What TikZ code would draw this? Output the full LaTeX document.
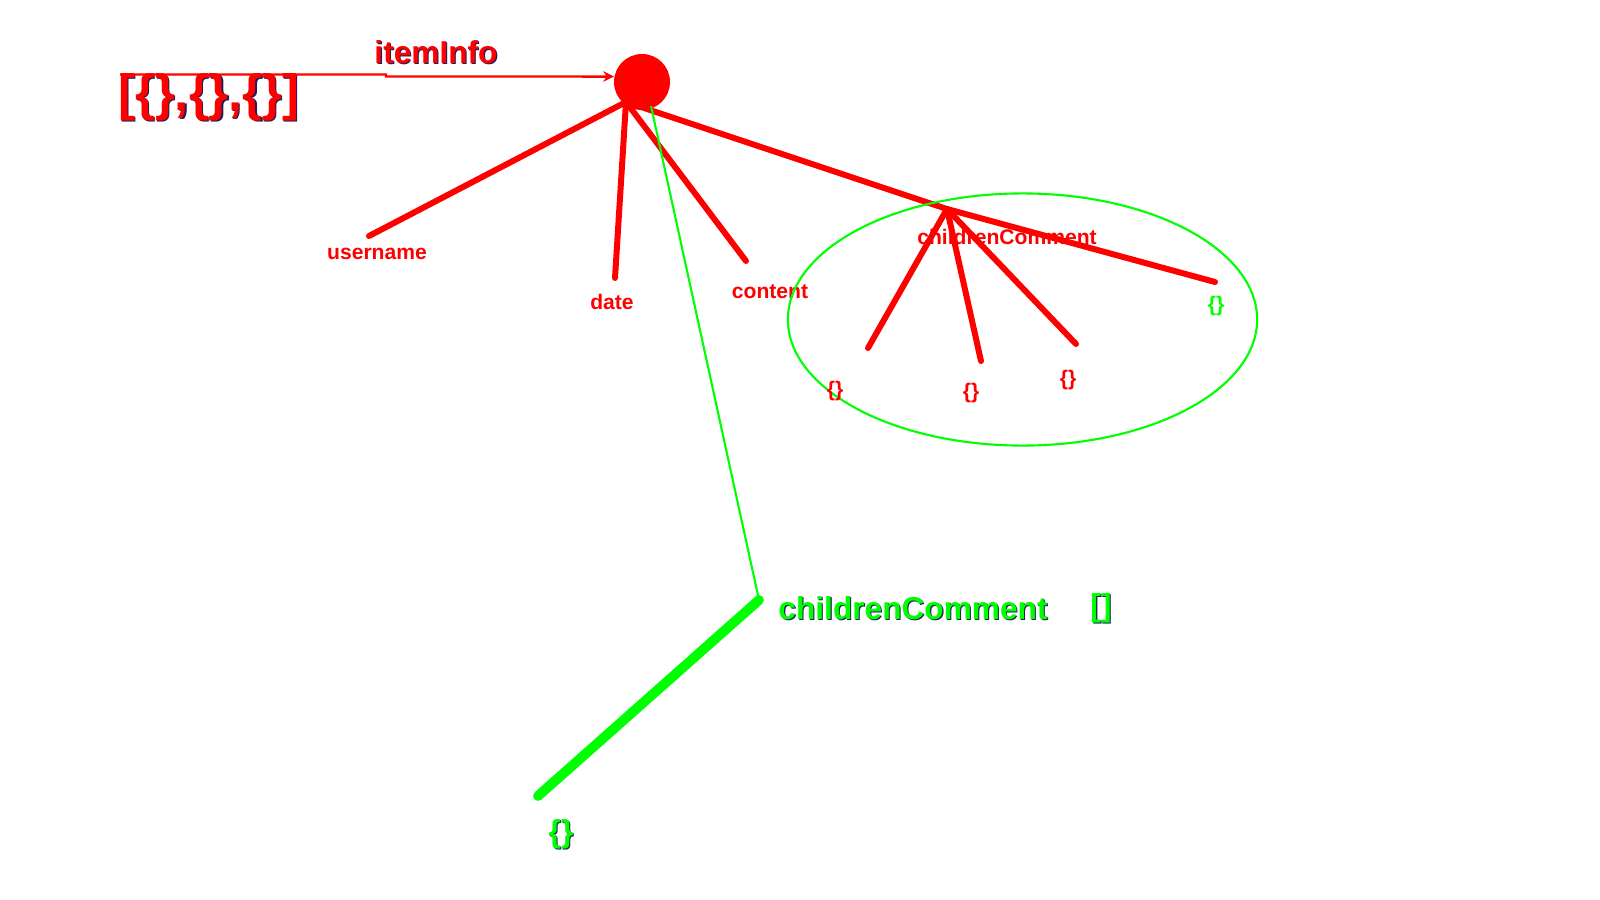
\documentclass[tikz,border=0pt]{standalone}
\usepackage{fontspec}
\setmainfont{Liberation Sans}
\usetikzlibrary{arrows.meta,shapes.geometric}
\definecolor{lred}{RGB}{255,0,0}
\definecolor{lgreen}{RGB}{0,255,0}
\definecolor{shadowc}{RGB}{30,30,90}
\newcommand\shadowed[2]{\rlap{\hspace{0.3pt}\raisebox{-0.3pt}{\color{shadowc}#2}}\textcolor{#1}{#2}}
\begin{document}
\begin{tikzpicture}[x=0.01cm,y=-0.01cm,
  redline/.style={draw=lred,line width=1.7pt,line cap=round},
  smalllbl/.style={font=\bfseries\fontsize{6}{7}\selectfont,inner sep=0pt},
  biglbl/.style={font=\bfseries\fontsize{9}{10}\selectfont,inner sep=0pt},
  thingreen/.style={draw=lgreen,line width=0.6pt}]
\useasboundingbox[fill=white] (0,0) rectangle (1600,900);
% top array and arrow
\node[inner sep=0pt,font=\bfseries\fontsize{14.5}{16}\selectfont] (arr) at (209,98) {\shadowed{lred}{[\{\},\{\},\{\}]}};
\node[biglbl] (iteminfo) at (436,53) {\shadowed{lred}{itemInfo}};
\node[circle,fill=lred,minimum size=0.56cm,inner sep=0pt] (root) at (642,82) {};
\coordinate (astart) at (120,74.5);
\coordinate (astep) at (386,74.5);
\draw[lred,line width=0.7pt,-{Stealth[length=3pt,width=3pt]}] (astart) -- (astep) -- ++(0,2) -- (root.169);
% hub and first-level branches
\coordinate (hub) at (626,102);
\coordinate (uend) at (369,236);
\coordinate (dend) at (615,278);
\coordinate (cend) at (746,261);
\coordinate (chub) at (947,209);
\draw[redline] (hub) -- (uend);
\draw[redline] (hub) -- (dend);
\draw[redline] (hub) -- (cend);
\draw[redline] (hub) -- (chub);
\node[smalllbl,text=lred] (username) at (377,254) {username};
\node[smalllbl,text=lred] (date) at (612,302) {date};
\node[smalllbl,text=lred] (content) at (770,292) {content};
% ellipse of children
\node[ellipse,draw=lgreen,line width=0.6pt,minimum width=4.69cm,minimum height=2.52cm,inner sep=0pt] (group) at (1022.5,319.5) {};
\node[smalllbl,text=lred] (cclabel) at (1007,237) {childrenComment};
\coordinate (e1) at (868,348);
\coordinate (e2) at (981,361);
\coordinate (e3) at (1076,344);
\coordinate (e4) at (1215,282);
\draw[redline] (chub) -- (e1);
\draw[redline] (chub) -- (e2);
\draw[redline] (chub) -- (e3);
\draw[redline] (chub) -- (e4);
\node[smalllbl,text=lred] (o1) at (835,391) {\{\}};
\node[smalllbl,text=lred] (o2) at (971,393) {\{\}};
\node[smalllbl,text=lred] (o3) at (1068,380) {\{\}};
\node[smalllbl,text=lgreen] (o4) at (1216,306) {\{\}};
% green detail branch
\coordinate (gstart) at (651,106);
\coordinate (gjoint) at (759,600);
\coordinate (gend) at (538,796);
\draw[thingreen] (gstart) -- (gjoint);
\draw[draw=lgreen,line width=2.8pt,line cap=round] (gjoint) -- (gend);
\node[biglbl] (gcc) at (913,609) {\shadowed{lgreen}{childrenComment}};
\node[biglbl] (garr) at (1101,609) {\shadowed{lgreen}{[]}};
\node[biglbl] (gobj) at (561,835) {\shadowed{lgreen}{\{\}}};
\end{tikzpicture}
\end{document}
